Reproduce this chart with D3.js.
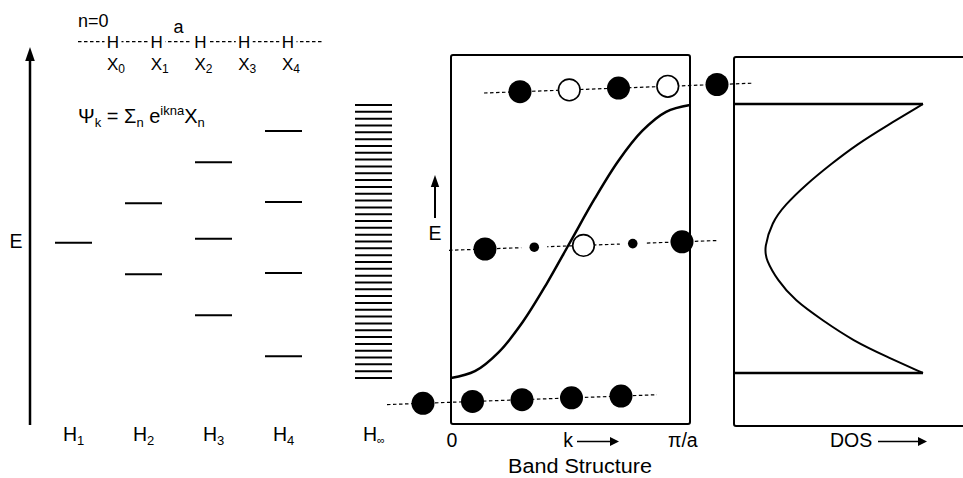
<!DOCTYPE html>
<html>
<head>
<meta charset="utf-8">
<script src="https://cdn.jsdelivr.net/npm/d3@7"></script>
<style>
  body { margin: 0; background: #fff; }
  svg text { font-family: "Liberation Sans", Arial, Helvetica, sans-serif; fill: #000; }
</style>
</head>
<body>
<svg id="chart" width="963" height="478"></svg>
<script>
// ---- Data -------------------------------------------------------------
// Energies are in units of the half bandwidth (band runs from -1 to +1).
const chainNames = ["1", "2", "3", "4"];
const levelsH1 = [-0.01];
const levelsH2 = [0.28, -0.24];
const levelsH3 = [0.58, 0.02, -0.54];
const levelsH4 = [0.81, 0.29, -0.23, -0.84];
const levelsInf = [1.00, 0.95, 0.90, 0.85, 0.80, 0.75, 0.70, 0.65, 0.60, 0.55,
                   0.50, 0.45, 0.40, 0.35, 0.30, 0.25, 0.20, 0.15, 0.10, 0.05,
                   0.00, -0.05, -0.10, -0.15, -0.20, -0.25, -0.30, -0.35, -0.40, -0.45,
                   -0.50, -0.55, -0.60, -0.65, -0.70, -0.75, -0.80, -0.85, -0.90, -0.95, -1.00];

// Band structure E(k), k in units of pi/a
const bandK = [0, 0.1, 0.2, 0.3, 0.4, 0.5, 0.6, 0.7, 0.8, 0.9, 1.0];
const bandE = [-1.00, -0.95, -0.81, -0.59, -0.31, 0.00, 0.31, 0.59, 0.81, 0.95, 1.00];

// Density of states vs energy
const dosE   = [1.00, 0.84, 0.70, 0.55, 0.40, 0.25, 0.12, -0.07, -0.16, -0.31, -0.46, -0.61, -0.76, -0.88, -1.00];
const dosVal = [1.00, 0.81, 0.65, 0.51, 0.38, 0.27, 0.20, 0.16, 0.17, 0.23, 0.32, 0.47, 0.63, 0.81, 1.00];

// Orbital coefficients on the five sites (+1 filled, -1 open, 0 node)
const orbTop = [1, -1, 1, -1, 1];
const orbMid = [1, 0, -1, 0, 1];
const orbBot = [1, 1, 1, 1, 1];
const siteIndex = ["0", "1", "2", "3", "4"];

// ---- Drawing ----------------------------------------------------------
const svg = d3.select("#chart");
const FS = 19.5;

function arrowHead(g, x, y, dir, len, half) {
  // dir: "up" or "right"
  let pts;
  if (dir === "up") pts = [[x, y], [x - half, y + len], [x + half, y + len]];
  else pts = [[x, y], [x - len, y - half], [x - len, y + half]];
  g.append("path").attr("d", d3.line()(pts) + "Z").attr("fill", "#000");
}

function subText(g, x, y, main, sub, opts = {}) {
  const t = g.append("text").attr("x", x).attr("y", y)
    .attr("font-size", opts.size || FS).attr("text-anchor", opts.anchor || "start");
  t.append("tspan").text(main);
  if (sub) t.append("tspan").attr("font-size", opts.subSize || 13).attr("dy", opts.subDy || 4).text(sub);
  return t;
}

// Energy scales
const yE = d3.scaleLinear().domain([-1, 1]).range([378, 105]);
const yDos = d3.scaleLinear().domain([-1, 1]).range([373, 104]);

// ---- Left: molecular levels H1..H4 and H-infinity ----
const leftG = svg.append("g");
const col = d3.scaleLinear().domain([0, 3]).range([73.5, 283.5]);
const halfW = 18.5;
const allLevels = [levelsH1, levelsH2, levelsH3, levelsH4];

// energy arrow
leftG.append("line").attr("x1", 30).attr("x2", 30).attr("y1", 425).attr("y2", 58)
  .attr("stroke", "#000").attr("stroke-width", 2.5);
arrowHead(leftG, 30, 47, "up", 14, 4.8);
leftG.append("text").attr("x", 16).attr("y", 248).attr("font-size", FS)
  .attr("text-anchor", "middle").text("E");

allLevels.forEach((lv, i) => {
  leftG.selectAll(null).data(lv).enter().append("line")
    .attr("x1", col(i) - halfW).attr("x2", col(i) + halfW)
    .attr("y1", d => yE(d)).attr("y2", d => yE(d))
    .attr("stroke", "#000").attr("stroke-width", 2);
  subText(leftG, col(i) - 10.5, 441, "H", chainNames[i]);
});

const xInf = col(3) + 90;
leftG.selectAll(null).data(levelsInf).enter().append("line")
  .attr("x1", xInf - halfW).attr("x2", xInf + halfW)
  .attr("y1", d => yE(d)).attr("y2", d => yE(d))
  .attr("stroke", "#000").attr("stroke-width", 2);
subText(leftG, xInf - 10.5, 441, "H", "\u221E", { subSize: 11, subDy: 3 });

// ---- Top-left: the chain of H atoms and the Bloch sum ----
const chainG = svg.append("g");
const siteX = d3.scaleLinear().domain([0, 4]).range([113, 288]);
chainG.append("line").attr("x1", 78).attr("x2", 322).attr("y1", 41.7).attr("y2", 41.7)
  .attr("stroke", "#000").attr("stroke-width", 1.2).attr("stroke-dasharray", "3.5,2.5");
siteIndex.forEach((s, i) => {
  chainG.append("rect").attr("x", siteX(i) - 8.5).attr("y", 34).attr("width", 17).attr("height", 15)
    .attr("fill", "#fff");
  chainG.append("text").attr("x", siteX(i)).attr("y", 47.5).attr("font-size", 17)
    .attr("text-anchor", "middle").text("H");
  subText(chainG, siteX(i) - 6, 70, "\u03A7", s, { size: 17, subSize: 12, subDy: 3 });
});
chainG.append("text").attr("x", 78).attr("y", 27).attr("font-size", 18).text("n=0");
chainG.append("text").attr("x", (siteX(1) + siteX(2)) / 2).attr("y", 33).attr("font-size", 18)
  .attr("text-anchor", "middle").text("a");

const psi = chainG.append("text").attr("x", 78).attr("y", 123).attr("font-size", 20);
psi.append("tspan").text("\u03A8");
psi.append("tspan").attr("font-size", 13).attr("dy", 4).text("k");
psi.append("tspan").attr("dy", -4).text(" = \u03A3");
psi.append("tspan").attr("font-size", 13).attr("dy", 4).text("n");
psi.append("tspan").attr("dy", -4).text(" e");
psi.append("tspan").attr("font-size", 13).attr("dy", -8).text("ikna");
psi.append("tspan").attr("dy", 8).text("\u03A7");
psi.append("tspan").attr("font-size", 13).attr("dy", 4).text("n");

// ---- Middle: band structure ----
const band = svg.append("g");
const xK = d3.scaleLinear().domain([0, 1]).range([451, 690]);
band.append("rect").attr("x", xK(0)).attr("y", 55).attr("width", xK(1) - xK(0)).attr("height", 369)
  .attr("rx", 2).attr("fill", "none").attr("stroke", "#000").attr("stroke-width", 2);
band.append("path")
  .datum(bandK.map((k, i) => [k, bandE[i]]))
  .attr("d", d3.line().x(d => xK(d[0])).y(d => yE(d[1])).curve(d3.curveCatmullRom.alpha(0.5)))
  .attr("fill", "none").attr("stroke", "#000").attr("stroke-width", 2.5);

// E arrow inside the band panel
band.append("line").attr("x1", 435).attr("x2", 435).attr("y1", 218).attr("y2", 185)
  .attr("stroke", "#000").attr("stroke-width", 2);
arrowHead(band, 435, 175, "up", 12, 4.2);
band.append("text").attr("x", 435).attr("y", 240).attr("font-size", FS)
  .attr("text-anchor", "middle").text("E");

// axis labels
band.append("text").attr("x", xK(0) + 1).attr("y", 447).attr("font-size", FS)
  .attr("text-anchor", "middle").text("0");
band.append("text").attr("x", 568).attr("y", 447).attr("font-size", FS)
  .attr("text-anchor", "middle").text("k");
band.append("line").attr("x1", 577).attr("x2", 612).attr("y1", 441.5).attr("y2", 441.5)
  .attr("stroke", "#000").attr("stroke-width", 1.5);
arrowHead(band, 619, 441.5, "right", 9, 4.5);
band.append("text").attr("x", 668).attr("y", 447).attr("font-size", FS)
  .attr("text-anchor", "start").text("\u03C0/a");
band.append("text").attr("x", 508).attr("y", 473).attr("font-size", 20)
  .attr("textLength", 144).attr("lengthAdjust", "spacingAndGlyphs")
  .text("Band Structure");

// ---- Orbital rows ----
const rows = [
  { coef: orbTop, x0: 520, y0: 91.7, step: 49.25 },
  { coef: orbMid, x0: 485, y0: 249, step: 49.25 },
  { coef: orbBot, x0: 423, y0: 403.3, step: 49.5 }
];
const slope = -1.8 / 49.25;
rows.forEach(r => {
  const g = svg.append("g");
  const n = r.coef.length;
  const xa = r.x0 - 36, xb = r.x0 + (n - 1) * r.step + 36;
  g.append("line")
    .attr("x1", xa).attr("y1", r.y0 + (xa - r.x0) * slope)
    .attr("x2", xb).attr("y2", r.y0 + (xb - r.x0) * slope)
    .attr("stroke", "#000").attr("stroke-width", 1.2).attr("stroke-dasharray", "3.5,2.5");
  r.coef.forEach((c, i) => {
    const cx = r.x0 + i * r.step, cy = r.y0 + i * r.step * slope;
    if (c === 0) {
      g.append("circle").attr("cx", cx).attr("cy", cy).attr("r", 13).attr("fill", "#fff");
      g.append("circle").attr("cx", cx).attr("cy", cy).attr("r", 4.8).attr("fill", "#000");
    } else if (c > 0) {
      g.append("circle").attr("cx", cx).attr("cy", cy).attr("r", 11.5).attr("fill", "#000");
    } else {
      g.append("circle").attr("cx", cx).attr("cy", cy).attr("r", 10.8)
        .attr("fill", "#fff").attr("stroke", "#000").attr("stroke-width", 1.6);
    }
  });
});

// ---- Right: density of states ----
const dos = svg.append("g");
const xDos = d3.scaleLinear().domain([0, 1]).range([734, 923]);
dos.append("rect").attr("x", xDos(0)).attr("y", 57).attr("width", 260).attr("height", 369)
  .attr("rx", 2).attr("fill", "none").attr("stroke", "#000").attr("stroke-width", 2);
[1, -1].forEach(e => {
  dos.append("line").attr("x1", xDos(0)).attr("x2", xDos(1))
    .attr("y1", yDos(e)).attr("y2", yDos(e))
    .attr("stroke", "#000").attr("stroke-width", 2.5);
});
dos.append("path")
  .datum(dosE.map((e, i) => [dosVal[i], e]))
  .attr("d", d3.line().x(d => xDos(d[0])).y(d => yDos(d[1])).curve(d3.curveBasis))
  .attr("fill", "none").attr("stroke", "#000").attr("stroke-width", 2);
dos.append("text").attr("x", 830).attr("y", 447).attr("font-size", FS).text("DOS");
dos.append("line").attr("x1", 878).attr("x2", 920).attr("y1", 441.5).attr("y2", 441.5)
  .attr("stroke", "#000").attr("stroke-width", 1.5);
arrowHead(dos, 927, 441.5, "right", 9, 4.5);
</script>
</body>
</html>
